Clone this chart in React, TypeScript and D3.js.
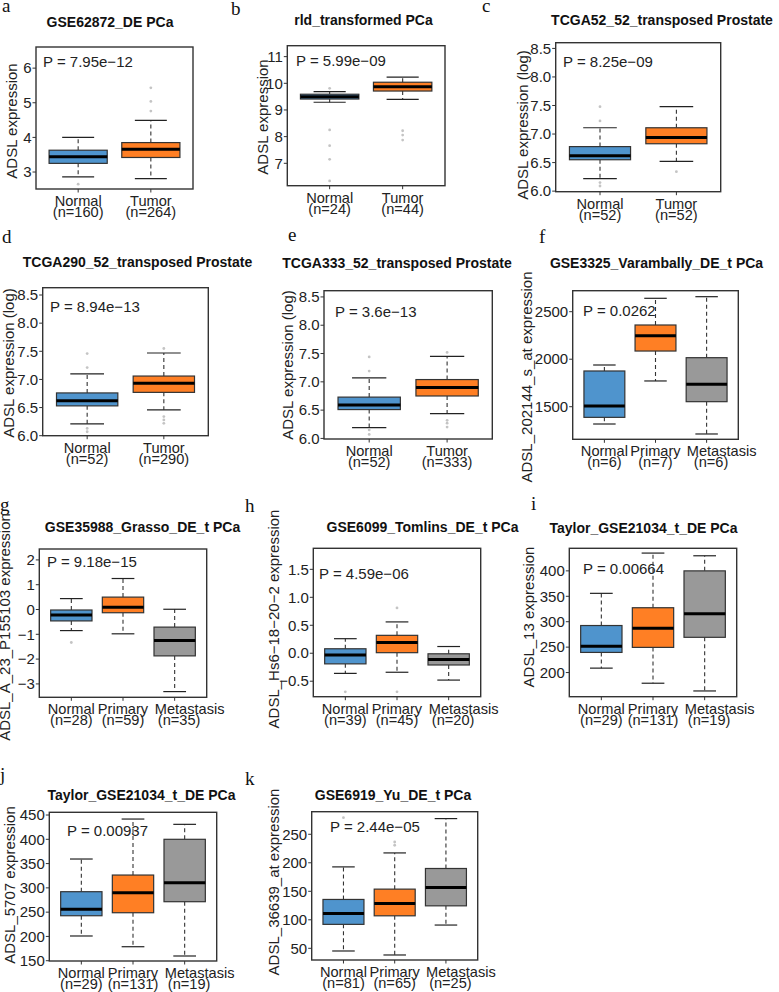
import React from "react";
import * as d3 from "d3";

// ---------- data ----------
// a
const aTitle = "GSE62872_DE PCa";
const aGroups = ["Normal", "Tumor"];
const aCounts = ["(n=160)", "(n=264)"];
const aStats = [[2.86, 3.25, 3.44, 3.63, 4.0], [2.81, 3.42, 3.66, 3.85, 4.49]];
const aOutliers = [[2.65], [4.76, 5.04, 5.43]];
const aTicks = [3, 4, 5, 6];
const aDomain = [2.51, 6.61];
const aP = "P = 7.95e\u221212";
const aYLabel = "ADSL expression";
// b
const bTitle = "rld_transformed PCa";
const bGroups = ["Normal", "Tumor"];
const bCounts = ["(n=24)", "(n=44)"];
const bStats = [[9.29, 9.41, 9.5, 9.59, 9.69], [9.4, 9.71, 9.87, 10.04, 10.23]];
const bOutliers = [[9.81, 8.25, 7.66, 7.15, 6.34], [8.22, 8.06, 7.87]];
const bTicks = [7, 8, 9, 10, 11];
const bDomain = [6.16, 11.41];
const bP = "P = 5.99e\u221209";
const bYLabel = "ADSL expression";
// c
const cTitle = "TCGA52_52_transposed Prostate";
const cGroups = ["Normal", "Tumor"];
const cCounts = ["(n=52)", "(n=52)"];
const cStats = [[6.22, 6.55, 6.62, 6.78, 7.11], [6.52, 6.83, 6.94, 7.11, 7.48]];
const cOutliers = [[7.48, 7.23, 6.15, 6.09], [6.34]];
const cTicks = [6, 6.5, 7, 7.5, 8, 8.5];
const cDomain = [5.99, 8.6];
const cP = "P = 8.25e\u221209";
const cYLabel = "ADSL expression (log)";
// d
const dTitle = "TCGA290_52_transposed Prostate";
const dGroups = ["Normal", "Tumor"];
const dCounts = ["(n=52)", "(n=290)"];
const dStats = [[6.21, 6.53, 6.62, 6.76, 7.1], [6.46, 6.77, 6.93, 7.06, 7.47]];
const dOutliers = [[7.46, 7.21, 6.13, 6.07], [7.55, 6.34, 6.28, 6.22]];
const dTicks = [6, 6.5, 7, 7.5, 8, 8.5];
const dDomain = [6.0, 8.63];
const dP = "P = 8.94e\u221213";
const dYLabel = "ADSL expression (log)";
// e
const eTitle = "TCGA333_52_transposed Prostate";
const eGroups = ["Normal", "Tumor"];
const eCounts = ["(n=52)", "(n=333)"];
const eStats = [[6.19, 6.51, 6.59, 6.73, 7.07], [6.44, 6.75, 6.9, 7.04, 7.45]];
const eOutliers = [[7.44, 7.19, 6.15, 6.07], [7.52, 6.32, 6.27, 6.2]];
const eTicks = [6, 6.5, 7, 7.5, 8, 8.5];
const eDomain = [5.99, 8.61];
const eP = "P = 3.6e\u221213";
const eYLabel = "ADSL expression (log)";
// f
const fTitle = "GSE3325_Varambally_DE_t PCa";
const fGroups = ["Normal", "Primary", "Metastasis"];
const fCounts = ["(n=6)", "(n=7)", "(n=6)"];
const fStats = [[1318, 1388, 1507, 1876, 1939], [1771, 2086, 2247, 2360, 2641], [1213, 1553, 1736, 2016, 2658]];
const fOutliers: number[][] = [[], [], []];
const fTicks = [1500, 2000, 2500];
const fDomain = [1157, 2721];
const fP = "P = 0.0262";
const fYLabel = "ADSL_202144_s_at expression";
// g
const gTitle = "GSE35988_Grasso_DE_t PCa";
const gGroups = ["Normal", "Primary", "Metastasis"];
const gCounts = ["(n=28)", "(n=59)", "(n=35)"];
const gStats = [[-0.85, -0.46, -0.22, -0.02, 0.44], [-0.98, -0.13, 0.09, 0.5, 1.25], [-3.31, -1.87, -1.25, -0.71, 0.01]];
const gOutliers = [[-1.33], [], []];
const gTicks = [-3, -2, -1, 0, 1, 2];
const gDomain = [-3.54, 2.44];
const gP = "P = 9.18e\u221215";
const gYLabel = "ADSL_A_23_P155103 expression";
// h
const hTitle = "GSE6099_Tomlins_DE_t PCa";
const hGroups = ["Normal", "Primary", "Metastasis"];
const hCounts = ["(n=39)", "(n=45)", "(n=20)"];
const hStats = [[-0.36, -0.19, -0.03, 0.08, 0.26], [-0.34, 0.01, 0.19, 0.32, 0.56], [-0.48, -0.21, -0.11, -0.01, 0.12]];
const hOutliers = [[-0.69], [0.81, -0.69], []];
const hTicks = [-0.5, 0, 0.5, 1, 1.5];
const hDomain = [-0.777, 1.876];
const hP = "P = 4.59e\u221206";
const hYLabel = "ADSL_Hs6\u221218\u221220\u22122 expression";
// i
const iTitle = "Taylor_GSE21034_t_DE PCa";
const iGroups = ["Normal", "Primary", "Metastasis"];
const iCounts = ["(n=29)", "(n=131)", "(n=19)"];
const iStats = [[208.7, 239.6, 251.5, 292.5, 355.8], [179, 249.5, 287.1, 327.5, 435], [163.8, 269.3, 315.6, 400, 429.7]];
const iOutliers: number[][] = [[], [], []];
const iTicks = [200, 250, 300, 350, 400];
const iDomain = [152.5, 444.4];
const iP = "P = 0.00664";
const iYLabel = "ADSL_13 expression";
// j
const jTitle = "Taylor_GSE21034_t_DE PCa";
const jGroups = ["Normal", "Primary", "Metastasis"];
const jCounts = ["(n=29)", "(n=131)", "(n=19)"];
const jStats = [[200.9, 242.6, 255.8, 292.1, 359.4], [178.8, 248.8, 290, 326.4, 441.7], [159.7, 271.5, 310.6, 400, 430.8]];
const jOutliers: number[][] = [[], [], []];
const jTicks = [150, 200, 250, 300, 350, 400, 450];
const jDomain = [149.4, 455.6];
const jP = "P = 0.00937";
const jYLabel = "ADSL_5707 expression";
// k
const kTitle = "GSE6919_Yu_DE_t PCa";
const kGroups = ["Normal", "Primary", "Metastasis"];
const kCounts = ["(n=81)", "(n=65)", "(n=25)"];
const kStats = [[45.3, 92, 111.2, 135.7, 192.8], [38.3, 107, 128.7, 153.8, 217.3], [90.8, 124.5, 156.7, 190, 277.5]];
const kOutliers = [[279.2], [236.5, 230.8], []];
const kTicks = [50, 100, 150, 200, 250];
const kDomain = [29.5, 289.6];
const kP = "P = 2.44e\u221205";
const kYLabel = "ADSL_36639_at expression";

// ---------- layout ----------
type Panel = {
  letter: string; lx: number; ly: number;
  title: string; tx: number; ty: number;
  groups: string[]; counts: string[]; stats: number[][]; outliers: number[][];
  ticks: number[]; fmt: string; domain: number[];
  p: string; px: number; py: number;
  ylab: string; yx: number; yy: number;
  box: [number, number, number, number];
};

const panels: Panel[] = [
  { letter: "a", lx: 2, ly: 12, title: aTitle, tx: 110, ty: 27, groups: aGroups, counts: aCounts, stats: aStats, outliers: aOutliers, ticks: aTicks, fmt: "d", domain: aDomain, p: aP, px: 43, py: 67, ylab: aYLabel, yx: 12, yy: 121, box: [36, 193, 47, 189] },
  { letter: "b", lx: 231, ly: 15, title: bTitle, tx: 363.5, ty: 25, groups: bGroups, counts: bCounts, stats: bStats, outliers: bOutliers, ticks: bTicks, fmt: "d", domain: bDomain, p: bP, px: 296, py: 66, ylab: bYLabel, yx: 263, yy: 117, box: [287.3, 445, 45.7, 185.7] },
  { letter: "c", lx: 482, ly: 12, title: cTitle, tx: 662, ty: 25, groups: cGroups, counts: cCounts, stats: cStats, outliers: cOutliers, ticks: cTicks, fmt: ".1f", domain: cDomain, p: cP, px: 563, py: 67, ylab: cYLabel, yx: 523, yy: 125, box: [555.7, 720.7, 42.7, 191.7] },
  { letter: "d", lx: 2, ly: 243, title: dTitle, tx: 137.5, ty: 267, groups: dGroups, counts: dCounts, stats: dStats, outliers: dOutliers, ticks: dTicks, fmt: ".1f", domain: dDomain, p: dP, px: 50, py: 312, ylab: dYLabel, yx: 8.5, yy: 363, box: [42.7, 208.3, 287.7, 435.7] },
  { letter: "e", lx: 288, ly: 241, title: eTitle, tx: 397, ty: 268, groups: eGroups, counts: eCounts, stats: eStats, outliers: eOutliers, ticks: eTicks, fmt: ".1f", domain: eDomain, p: eP, px: 335, py: 317, ylab: eYLabel, yx: 287.5, yy: 365, box: [324, 492.3, 290.7, 439] },
  { letter: "f", lx: 539, ly: 243, title: fTitle, tx: 656.5, ty: 268, groups: fGroups, counts: fCounts, stats: fStats, outliers: fOutliers, ticks: fTicks, fmt: "d", domain: fDomain, p: fP, px: 583, py: 316, ylab: fYLabel, yx: 527, yy: 377, box: [572.7, 738.3, 290.7, 439.3] },
  { letter: "g", lx: 0, ly: 511, title: gTitle, tx: 142.5, ty: 532, groups: gGroups, counts: gCounts, stats: gStats, outliers: gOutliers, ticks: gTicks, fmt: "d", domain: gDomain, p: gP, px: 47, py: 567, ylab: gYLabel, yx: 5, yy: 627, box: [39.3, 206.7, 549, 697.3] },
  { letter: "h", lx: 245, ly: 512, title: hTitle, tx: 422.5, ty: 532, groups: hGroups, counts: hCounts, stats: hStats, outliers: hOutliers, ticks: hTicks, fmt: ".1f", domain: hDomain, p: hP, px: 319, py: 579, ylab: hYLabel, yx: 274, yy: 619, box: [313.3, 480.7, 548.3, 696.7] },
  { letter: "i", lx: 531, ly: 510, title: iTitle, tx: 643.5, ty: 533, groups: iGroups, counts: iCounts, stats: iStats, outliers: iOutliers, ticks: iTicks, fmt: "d", domain: iDomain, p: iP, px: 583, py: 574, ylab: iYLabel, yx: 529, yy: 617, box: [569.3, 736.7, 548.3, 696.7] },
  { letter: "j", lx: 0, ly: 781, title: jTitle, tx: 141.5, ty: 800, groups: jGroups, counts: jCounts, stats: jStats, outliers: jOutliers, ticks: jTicks, fmt: "d", domain: jDomain, p: jP, px: 67, py: 836, ylab: jYLabel, yx: 9.5, yy: 885, box: [49.3, 216.7, 812.3, 961] },
  { letter: "k", lx: 245, ly: 785, title: kTitle, tx: 393, ty: 800, groups: kGroups, counts: kCounts, stats: kStats, outliers: kOutliers, ticks: kTicks, fmt: "d", domain: kDomain, p: kP, px: 330, py: 832, ylab: kYLabel, yx: 274, yy: 882, box: [311.7, 477.7, 811.7, 960] },
];

const colorOf: Record<string, string> = {
  Normal: "#4F94CD",
  Tumor: "#FF7F24",
  Primary: "#FF7F24",
  Metastasis: "#999999",
};
// horizontal nudges of the two label lines (as in the reference)
const labelShift: Record<string, [number, number]> = {
  Metastasis: [15, 4.5],
};

const SANS = "'Liberation Sans', Arial, Helvetica, sans-serif";
const SERIF = "'Liberation Serif', 'Times New Roman', serif";
const INK = "#222";

function BoxPanel({ p }: { p: Panel }) {
  const [L, R, T, B] = p.box;
  const n = p.groups.length;
  const pad = 0.04 * n;
  const x = d3.scaleLinear().domain([0.5 - pad, n + 0.5 + pad]).range([L, R]);
  const y = d3.scaleLinear().domain(p.domain).range([B, T]);
  const fmt = d3.format(p.fmt);
  const halfW = x(1.4) - x(1);
  const capW = halfW * 0.55;
  return (
    <g>
      <text x={p.lx} y={p.ly} fontFamily={SERIF} fontSize={19} fill="#111">{p.letter}</text>
      <text x={p.tx} y={p.ty} textAnchor="middle" fontFamily={SANS} fontWeight="bold" fontSize={14} fill="#111">{p.title}</text>
      {p.ticks.map((t) => (
        <g key={t}>
          <line x1={L - 3.5} x2={L} y1={y(t)} y2={y(t)} stroke="#333" strokeWidth={1} />
          <text x={L - 4.5} y={y(t)} dy="0.35em" textAnchor="end" fontFamily={SANS} fontSize={15} fill={INK}>{fmt(t)}</text>
        </g>
      ))}
      <text transform={`translate(${p.yx},${p.yy}) rotate(-90)`} textAnchor="middle" dy="0.35em" fontFamily={SANS} fontSize={15} fill={INK}>{p.ylab}</text>
      {p.groups.map((gname, i) => {
        const cx = x(i + 1);
        const [lo, q1, med, q3, hi] = p.stats[i];
        const sh = labelShift[gname] || [0, 0];
        return (
          <g key={gname}>
            <line x1={cx} x2={cx} y1={y(q3)} y2={y(hi)} stroke="#333" strokeWidth={1.1} strokeDasharray="4,3" />
            <line x1={cx} x2={cx} y1={y(q1)} y2={y(lo)} stroke="#333" strokeWidth={1.1} strokeDasharray="4,3" />
            <line x1={cx - capW} x2={cx + capW} y1={y(hi)} y2={y(hi)} stroke="#222" strokeWidth={1.2} />
            <line x1={cx - capW} x2={cx + capW} y1={y(lo)} y2={y(lo)} stroke="#222" strokeWidth={1.2} />
            <rect x={cx - halfW} y={y(q3)} width={2 * halfW} height={y(q1) - y(q3)} fill={colorOf[gname]} stroke="#333" strokeWidth={1.2} />
            <line x1={cx - halfW} x2={cx + halfW} y1={y(med)} y2={y(med)} stroke="#000" strokeWidth={3} />
            {p.outliers[i].map((o, k) => (
              <circle key={k} cx={cx} cy={y(o)} r={1.4} fill="#c4c4c4" />
            ))}
            <line x1={cx} x2={cx} y1={B} y2={B + 3.5} stroke="#333" strokeWidth={1} />
            <text x={cx + sh[0]} y={B + 17} textAnchor="middle" fontFamily={SANS} fontSize={14.6} fill={INK}>{gname}</text>
            <text x={cx + sh[1]} y={B + 28} textAnchor="middle" fontFamily={SANS} fontSize={14.6} fill={INK}>{p.counts[i]}</text>
          </g>
        );
      })}
      <rect x={L} y={T} width={R - L} height={B - T} fill="none" stroke="#333" strokeWidth={1.4} />
      <text x={p.px} y={p.py} fontFamily={SANS} fontSize={15} fill={INK}>{p.p}</text>
    </g>
  );
}

export default function App() {
  return (
    <svg width={779} height={992} viewBox="0 0 779 992" style={{ position: "absolute", left: 0, top: 0, background: "#fff" }}>
      <rect x={0} y={0} width={779} height={992} fill="#fff" />
      {panels.map((p) => (
        <BoxPanel key={p.letter} p={p} />
      ))}
    </svg>
  );
}
